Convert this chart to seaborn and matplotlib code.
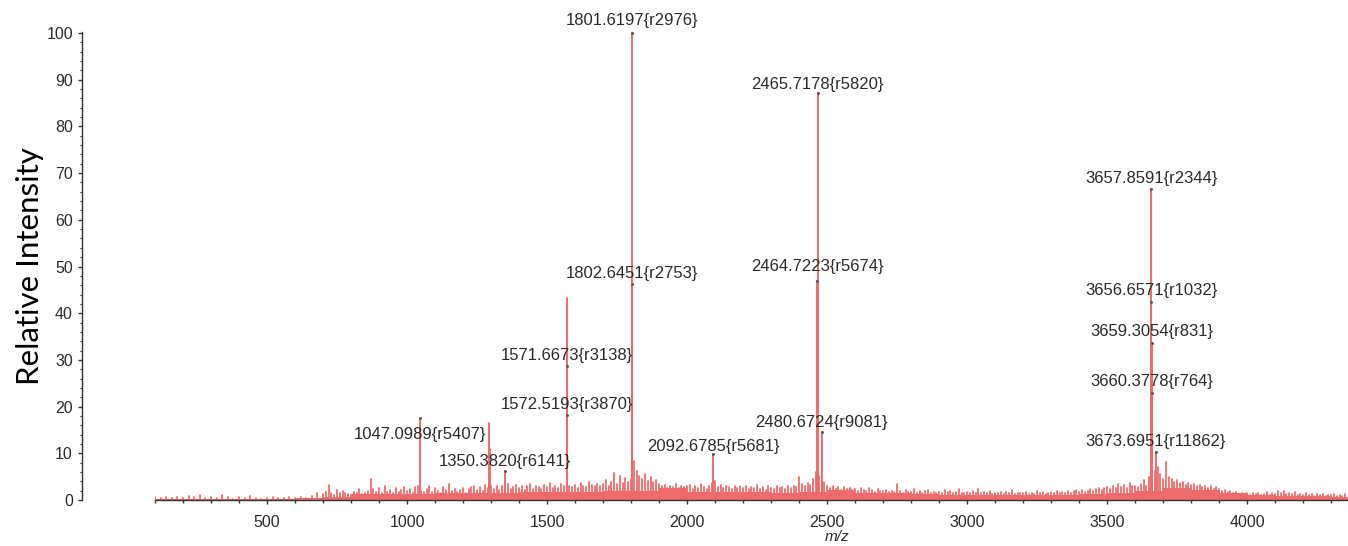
import numpy as np
import pandas as pd
import matplotlib
matplotlib.use("Agg")
import matplotlib.pyplot as plt
from matplotlib.ticker import MultipleLocator
import seaborn as sns

# ---- spectrum data -------------------------------------------------------
# low-mass noise spikes (m/z 100-680, step 20)
low_mz = list(range(100, 700, 20))
low_int = [0.6, 0.5, 0.7, 0.4, 0.6, 0.5, 0.8, 0.6, 1.1, 0.5,
           0.7, 0.4, 1.0, 0.6, 0.3, 0.7, 0.5, 0.8, 0.4, 0.3,
           0.5, 0.6, 0.4, 0.5, 0.7, 0.4, 0.6, 0.5, 0.9, 1.4]

# chemical noise spikes (m/z 700-4350, step 10)
noise_mz = list(range(700, 4360, 10))
noise_int = [
    1.2, 1.8, 3.3, 1.5, 1.0, 2.2, 1.4, 2.0, 1.6, 1.3,   # 700
    1.1, 1.7, 1.4, 2.3, 1.2, 1.5, 1.9, 4.6, 2.4, 1.8,   # 800
    2.6, 1.5, 2.9, 1.7, 2.1, 1.4, 2.5, 1.8, 2.2, 2.8,   # 900
    1.9, 2.4, 1.6, 2.7, 3.1, 2.0, 1.7, 2.3, 2.9, 1.8,   # 1000
    2.5, 2.0, 1.6, 2.8, 2.2, 3.4, 1.9, 2.4, 1.7, 2.1,   # 1100
    2.6, 1.5, 2.3, 2.8, 3.0, 2.2, 2.7, 2.0, 3.3, 2.5,   # 1200
    3.0, 2.4, 2.9, 2.1, 3.1, 2.6, 3.4, 2.3, 2.8, 3.2,   # 1300
    2.5, 3.1, 2.2, 2.9, 3.5, 2.4, 3.0, 2.7, 2.3, 3.3,   # 1400
    2.8, 3.6, 2.5, 3.0, 2.6, 3.4, 2.9, 3.8, 3.1, 2.7,   # 1500
    3.2, 2.6, 3.7, 3.0, 2.8, 3.9, 3.3, 2.9, 3.5, 3.0,   # 1600
    3.4, 4.2, 3.1, 3.8, 5.8, 3.5, 5.2, 3.6, 4.8, 3.9,   # 1700
    4.6, 8.4, 6.2, 5.1, 4.4, 5.6, 4.1, 4.9, 3.8, 4.3,   # 1800
    3.5, 2.9, 3.3, 2.6, 3.1, 2.8, 3.4, 2.5, 3.0, 2.7,   # 1900
    2.9, 3.3, 2.4, 3.0, 2.6, 3.4, 2.8, 2.3, 3.1, 3.6,   # 2000
    4.0, 2.8, 3.2, 2.5, 3.0, 2.7, 2.4, 3.1, 2.6, 2.9,   # 2100
    2.5, 3.0, 2.3, 2.8, 2.6, 3.2, 2.4, 2.7, 2.2, 2.9,   # 2200
    2.6, 2.3, 3.0, 2.5, 2.8, 2.4, 2.9, 2.6, 3.1, 2.7,   # 2300
    5.0, 3.5, 2.9, 3.6, 3.3, 4.5, 6.0, 5.2, 4.4, 3.8,   # 2400
    3.1, 2.6, 2.9, 2.4, 2.7, 2.2, 2.8, 2.3, 2.5, 2.1,   # 2500
    2.4, 2.0, 2.6, 2.2, 1.9, 2.5, 2.1, 1.8, 2.3, 2.0,   # 2600
    1.9, 2.2, 1.7, 2.0, 1.8, 3.5, 1.9, 1.6, 2.1, 1.8,   # 2700
    1.7, 2.3, 1.6, 2.0, 1.5, 1.9, 2.2, 1.6, 1.8, 1.5,   # 2800
    1.8, 1.4, 2.1, 1.7, 1.9, 1.5, 1.8, 2.3, 1.6, 1.4,   # 2900
    1.7, 1.5, 2.0, 1.6, 2.4, 1.4, 1.8, 1.5, 1.9, 1.3,   # 3000
    1.6, 1.4, 1.8, 1.2, 1.7, 1.5, 2.1, 1.3, 1.6, 1.4,   # 3100
    1.5, 1.8, 1.3, 1.6, 1.2, 1.9, 1.4, 1.7, 1.3, 1.5,   # 3200
    1.7, 1.4, 1.9, 1.5, 1.8, 1.4, 2.0, 1.6, 1.9, 2.1,   # 3300
    1.8, 2.2, 1.7, 2.0, 2.4, 1.9, 2.3, 2.6, 2.1, 2.5,   # 3400
    2.7, 2.3, 3.0, 2.6, 3.4, 2.8, 3.2, 2.5, 3.6, 2.9,   # 3500
    3.1, 2.7, 3.5, 4.2, 3.0, 5.0, 7.5, 6.2, 7.0, 5.5,   # 3600
    4.6, 8.2, 5.0, 4.4, 3.9, 4.3, 3.6, 3.9, 3.3, 3.7,   # 3700
    3.2, 3.5, 2.9, 3.3, 2.7, 3.1, 2.6, 2.9, 2.4, 2.7,   # 3800
    2.3, 1.9, 2.2, 1.7, 2.0, 1.5, 1.8, 1.3, 1.6, 1.2,   # 3900
    1.4, 1.1, 1.5, 1.2, 1.6, 1.0, 1.3, 1.7, 1.1, 1.4,   # 4000
    1.2, 1.9, 1.5, 2.0, 1.3, 1.6, 1.2, 1.8, 1.0, 1.3,   # 4100
    1.1, 1.4, 1.0, 1.3, 0.9, 1.2, 1.0, 1.3, 0.8, 1.1,   # 4200
    1.0, 1.3, 0.9, 1.1, 0.8, 1.2,                       # 4300
]

# unresolved baseline level, per 100 m/z window (100-4300)
base_mz = list(range(100, 4400, 100))
base_int = [0.3, 0.3, 0.3, 0.3, 0.3, 0.4, 0.7, 1.2, 1.2, 1.3,
            1.5, 1.5, 1.6, 1.7, 1.7, 1.8, 1.9, 2.0, 2.6, 1.8,
            1.7, 1.7, 1.6, 1.7, 2.2, 1.6, 1.4, 1.2, 1.1, 1.0,
            1.0, 1.0, 1.1, 1.3, 1.5, 1.9, 2.6, 2.2, 1.6, 1.0,
            0.8, 0.8, 0.7]

# resolved peaks above the noise floor
peak_mz = [1047.0989, 1294.0, 1296.0, 1350.3820, 1570.66, 1571.6673,
           1572.5193, 1801.6197, 1802.6451, 2092.6785, 2464.7223,
           2465.7178, 2480.6724, 3656.6571, 3657.8591, 3659.3054,
           3660.3778, 3673.6951]
peak_int = [17.5, 16.5, 11.0, 6.2, 43.3, 28.8,
            18.2, 100.0, 46.3, 9.9, 47.0,
            87.2, 14.6, 42.5, 66.6, 33.7,
            23.0, 10.3]

# annotated peaks: m/z, reference id, label height
label_mz = [1801.6197, 2465.7178, 3657.8591, 1802.6451, 2464.7223,
            3656.6571, 1571.6673, 3659.3054, 3660.3778, 1572.5193,
            2480.6724, 1047.0989, 3673.6951, 2092.6785, 1350.3820]
label_ref = [2976, 5820, 2344, 2753, 5674,
             1032, 3138, 831, 764, 3870,
             9081, 5407, 11862, 5681, 6141]
label_y = [102.7, 88.9, 68.9, 48.6, 50.1,
           44.8, 31.0, 36.0, 25.3, 20.5,
           16.5, 14.1, 12.5, 11.4, 8.2]

# ---- styling -------------------------------------------------------------
sns.set_style("ticks")
plt.rcParams["font.family"] = ["Liberation Sans", "DejaVu Sans"]

RED = "#EF6B6B"
INK = "#333333"

fig = plt.figure(figsize=(13.48, 5.46), dpi=100)
W, H = 1348, 546
ax = fig.add_axes([155 / W, 46 / H, 1193 / W, 468.4 / H])


def stick_frame(mz, inten):
    """Each centroid becomes a vertical segment from zero to its intensity."""
    return pd.DataFrame({
        "mz": np.repeat(mz, 2),
        "intensity": np.ravel([[0.0, h] for h in inten]),
        "peak": np.repeat(np.arange(len(mz)), 2),
    })


# unresolved baseline band
base = pd.DataFrame({"mz": base_mz + [4360], "intensity": base_int + [base_int[-1]]})
ax.fill_between(base["mz"], 0, base["intensity"], step="post", color=RED,
                linewidth=0)

# noise spikes
sns.lineplot(data=stick_frame(low_mz + noise_mz, low_int + noise_int),
             x="mz", y="intensity", units="peak", ax=ax, color=RED,
             linewidth=1.3, estimator=None, sort=False)

# resolved peaks
sns.lineplot(data=stick_frame(peak_mz, peak_int), x="mz", y="intensity",
             units="peak", ax=ax, color=RED, linewidth=1.4, estimator=None,
             sort=False)

# peak labels
for mz, ref, ly in zip(label_mz, label_ref, label_y):
    ax.text(mz, ly, f"{mz:.4f}{{r{ref}}}", ha="center", va="center",
            fontsize=12, color="#2a2a2a", clip_on=False)
    top = peak_int[peak_mz.index(mz)]
    ax.plot([mz], [top], marker="o", markersize=1.1, color="#555555",
            clip_on=False)

# axes
ax.set_xlim(100, 4360)
ax.set_ylim(0, 100.3)
ax.set_xticks([500, 1000, 1500, 2000, 2500, 3000, 3500, 4000])
ax.xaxis.set_minor_locator(MultipleLocator(100))
ax.yaxis.set_major_locator(MultipleLocator(10))
ax.yaxis.set_minor_locator(MultipleLocator(2))

for side in ("top", "right"):
    ax.spines[side].set_visible(False)
ax.spines["left"].set_position(("axes", -0.0612))
for side in ("left", "bottom"):
    ax.spines[side].set_color(INK)
    ax.spines[side].set_linewidth(1.0)

ax.tick_params(axis="both", which="major", labelsize=11.5, colors=INK,
               labelcolor="#2a2a2a", width=1.0)
ax.tick_params(axis="x", which="major", length=3, pad=8)
ax.tick_params(axis="x", which="minor", length=2.5, width=1.0, color=INK)
ax.tick_params(axis="y", which="major", length=3, pad=3.5)
ax.tick_params(axis="y", which="minor", length=1.6, width=0.8, color=INK)

ax.set_xlabel("m/z", fontsize=11, style="italic", color="#2a2a2a")
ax.xaxis.set_label_coords((837 - 155) / 1193, -30 / 468.4)
ax.set_ylabel("Relative Intensity", fontsize=22.5, family=["Lato", "DejaVu Sans"],
              color="black")
ax.yaxis.set_label_coords((44 - 155) / 1193, 0.5)

fig.savefig("out.png", dpi=100)
